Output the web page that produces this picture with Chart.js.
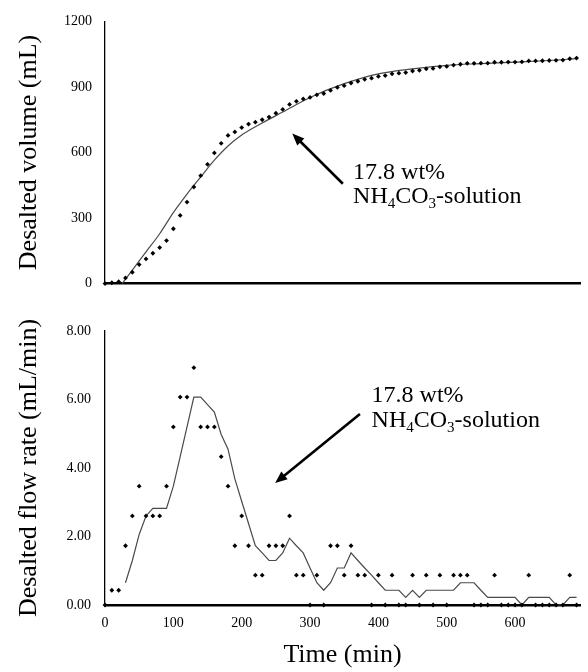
<!DOCTYPE html>
<html>
<head>
<meta charset="utf-8">
<script src="https://cdn.jsdelivr.net/npm/chart.js@4.4.1/dist/chart.umd.min.js"></script>
<style>
  html, body { margin: 0; padding: 0; background: #fff; }
  #wrap { position: relative; width: 588px; height: 672px; background: #fff; }
  canvas { position: absolute; left: 0; }
  #volChart { top: 0; }
  #flowChart { top: 305px; }
</style>
</head>
<body>
<div id="wrap">
  <canvas id="volChart" width="588" height="305"></canvas>
  <canvas id="flowChart" width="588" height="367"></canvas>
</div>
<script>
// sample times (min), one reading every 10 min
const times = [0, 10, 20, 30, 40, 50, 60, 70, 80, 90,
  100, 110, 120, 130, 140, 150, 160, 170, 180, 190,
  200, 210, 220, 230, 240, 250, 260, 270, 280, 290,
  300, 310, 320, 330, 340, 350, 360, 370, 380, 390,
  400, 410, 420, 430, 440, 450, 460, 470, 480, 490,
  500, 510, 520, 530, 540, 550, 560, 570, 580, 590,
  600, 610, 620, 630, 640, 650, 660, 670, 680, 690];

// desalted volume (mL), dots of the upper plot
const volume = [0, 4, 9, 26, 52, 87, 113, 139, 165, 197,
  251, 312, 373, 442, 494, 546, 598, 642, 678, 694,
  714, 730, 739, 750, 762, 780, 797, 820, 834, 845,
  852, 864, 870, 884, 898, 906, 918, 926, 935, 940,
  948, 952, 960, 963, 966, 973, 976, 983, 985, 992,
  994, 1000, 1004, 1008, 1008, 1009, 1009, 1013, 1013, 1014,
  1014, 1015, 1019, 1019, 1020, 1021, 1022, 1023, 1029, 1032];

// fitted curve of the upper plot
const volFitTimes = [25, 40, 60, 80, 100, 120, 140, 160, 180, 200, 230, 260, 300, 350, 400, 450, 500, 550, 600, 650, 690];
const volFit = [0, 62, 145, 228, 325, 410, 488, 565, 630, 680, 735, 785, 852, 915, 960, 983, 999, 1007, 1014, 1021, 1030];

// desalted flow rate (mL/min), dots of the lower plot
const flow = [0, 0.43, 0.43, 1.73, 2.6, 3.47, 2.6, 2.6, 2.6, 3.47,
  5.2, 6.07, 6.07, 6.93, 5.2, 5.2, 5.2, 4.33, 3.47, 1.73,
  2.6, 1.73, 0.87, 0.87, 1.73, 1.73, 1.73, 2.6, 0.87, 0.87,
  0, 0.87, 0, 1.73, 1.73, 0.87, 1.73, 0.87, 0.87, 0,
  0.87, 0, 0.87, 0, 0, 0.87, 0, 0.87, 0, 0.87,
  0, 0.87, 0.87, 0.87, 0, 0, 0, 0.87, 0, 0,
  0, 0, 0.87, 0, 0, 0, 0, 0, 0.87, 0];

// moving-average line of the lower plot (starts at 30 min)
const flowAvgTimes = times.slice(3);
const flowAvg = [0.65, 1.30, 2.06, 2.6, 2.82, 2.82, 2.82,
  3.47, 4.33, 5.2, 6.07, 6.07, 5.85, 5.63, 4.98, 4.55, 3.68,
  3.03, 2.38, 1.73, 1.52, 1.3, 1.3, 1.52, 1.95, 1.73, 1.52,
  1.08, 0.65, 0.43, 0.65, 1.08, 1.08, 1.52, 1.3, 1.08, 0.87,
  0.65, 0.43, 0.43, 0.43, 0.22, 0.43, 0.22, 0.43, 0.43, 0.43,
  0.43, 0.43, 0.65, 0.65, 0.65, 0.43, 0.22, 0.22, 0.22, 0.22,
  0.22, 0, 0.22, 0.22, 0.22, 0.22, 0, 0, 0.22, 0.22];

const volTicks = [0, 300, 600, 900, 1200];
const flowTicks = [0, 2, 4, 6, 8];
const timeTicks = [0, 100, 200, 300, 400, 500, 600];

// annotation spots in data units: text [x, baseline1, baseline2], arrow [fromX, fromY, toX, toY]
const volNote = { text: [363, 478, 370], arrow: [348, 457, 274, 687] };
const flowNote = { text: [390, 5.93, 5.2], arrow: [373, 5.58, 249, 3.56] };

const serif = "'Liberation Serif', 'Times New Roman', serif";

function pairs(xs, ys) {
  return xs.map((x, i) => ({ x: x, y: ys[i] }));
}

const notePlugin = {
  id: 'note',
  afterDatasetsDraw(chart, args, opts) {
    const ctx = chart.ctx;
    const xs = chart.scales.x, ys = chart.scales.y;
    const n = opts.spot;
    ctx.save();
    ctx.fillStyle = '#000';
    ctx.strokeStyle = '#000';
    ctx.textBaseline = 'alphabetic';
    ctx.textAlign = 'left';

    let tx = xs.getPixelForValue(n.text[0]);
    ctx.font = '24px ' + serif;
    ctx.fillText('17.8 wt%', tx, ys.getPixelForValue(n.text[1]));

    let by = ys.getPixelForValue(n.text[2]);
    const parts = [['NH', 0], ['4', 1], ['CO', 0], ['3', 1], ['-solution', 0]];
    parts.forEach(p => {
      ctx.font = (p[1] ? '15px ' : '24px ') + serif;
      ctx.fillText(p[0], tx, by + (p[1] ? 5 : 0));
      tx += ctx.measureText(p[0]).width;
    });

    const x1 = xs.getPixelForValue(n.arrow[0]), y1 = ys.getPixelForValue(n.arrow[1]);
    const x2 = xs.getPixelForValue(n.arrow[2]), y2 = ys.getPixelForValue(n.arrow[3]);
    const ang = Math.atan2(y2 - y1, x2 - x1);
    const head = 12;
    ctx.lineWidth = 2.6;
    ctx.beginPath();
    ctx.moveTo(x1, y1);
    ctx.lineTo(x2 - Math.cos(ang) * head * 0.8, y2 - Math.sin(ang) * head * 0.8);
    ctx.stroke();
    ctx.beginPath();
    ctx.moveTo(x2, y2);
    ctx.lineTo(x2 - head * Math.cos(ang) + 5 * Math.sin(ang), y2 - head * Math.sin(ang) - 5 * Math.cos(ang));
    ctx.lineTo(x2 - head * Math.cos(ang) - 5 * Math.sin(ang), y2 - head * Math.sin(ang) + 5 * Math.cos(ang));
    ctx.closePath();
    ctx.fill();
    ctx.restore();
  }
};

function keepTicks(list) {
  return s => { s.ticks = list.map(v => ({ value: v })); };
}

function dotSet(data) {
  return {
    data: data,
    showLine: false,
    pointStyle: 'rectRot',
    pointRadius: 2.4,
    backgroundColor: '#000',
    borderColor: '#000',
    borderWidth: 0,
    clip: false
  };
}

function lineSet(data, tension) {
  return {
    data: data,
    showLine: true,
    pointRadius: 0,
    borderColor: '#4a4a4a',
    borderWidth: 1.2,
    tension: tension,
    cubicInterpolationMode: tension ? 'monotone' : 'default',
    clip: false
  };
}

function yTitle(text) {
  return { display: true, text: text, color: '#000', font: { family: serif, size: 26 }, padding: { top: 0, bottom: 0 } };
}

const tickFont = { family: serif, size: 14 };

const volChart = new Chart(document.getElementById('volChart'), {
  type: 'scatter',
  data: {
    datasets: [
      dotSet(pairs(times, volume)),
      lineSet(pairs(volFitTimes, volFit), 0.3)
    ]
  },
  options: {
    responsive: false,
    animation: false,
    events: [],
    layout: { padding: { left: 14, right: 8, top: 16, bottom: 0 } },
    plugins: { legend: { display: false }, tooltip: { enabled: false }, note: { spot: volNote } },
    scales: {
      x: {
        type: 'linear', min: 0, max: 695,
        ticks: { display: false },
        grid: { display: false, drawTicks: false },
        border: { color: '#000', width: 2.6 },
        afterFit: s => { s.height = 12; }
      },
      y: {
        min: 0, max: 1200,
        afterBuildTicks: keepTicks(volTicks),
        ticks: { padding: 13, font: tickFont, color: '#000', callback: v => String(v) },
        grid: { display: false, drawTicks: false },
        border: { color: '#000', width: 1.3 },
        title: yTitle('Desalted volume (mL)'),
        afterFit: s => { s.width = 91; }
      }
    }
  },
  plugins: [notePlugin]
});

const flowChart = new Chart(document.getElementById('flowChart'), {
  type: 'scatter',
  data: {
    datasets: [
      dotSet(pairs(times, flow)),
      lineSet(pairs(flowAvgTimes, flowAvg), 0)
    ]
  },
  options: {
    responsive: false,
    animation: false,
    events: [],
    layout: { padding: { left: 14, right: 8, top: 26, bottom: 1 } },
    plugins: { legend: { display: false }, tooltip: { enabled: false }, note: { spot: flowNote } },
    scales: {
      x: {
        type: 'linear', min: 0, max: 695,
        afterBuildTicks: keepTicks(timeTicks),
        ticks: { padding: 10, font: tickFont, color: '#000', maxRotation: 0, callback: v => String(v) },
        grid: { display: false, drawTicks: false },
        border: { color: '#000', width: 2.6 },
        title: { display: true, text: 'Time (min)', color: '#000', font: { family: serif, size: 26 }, padding: { top: 0, bottom: 0 } },
        afterFit: s => { s.height = 66; }
      },
      y: {
        min: 0, max: 8,
        afterBuildTicks: keepTicks(flowTicks),
        ticks: { padding: 14, font: tickFont, color: '#000', callback: v => v.toFixed(2) },
        grid: { display: false, drawTicks: false },
        border: { color: '#000', width: 1.3 },
        title: yTitle('Desalted flow rate (mL/min)'),
        afterFit: s => { s.width = 91; }
      }
    }
  },
  plugins: [notePlugin]
});
</script>
</body>
</html>
